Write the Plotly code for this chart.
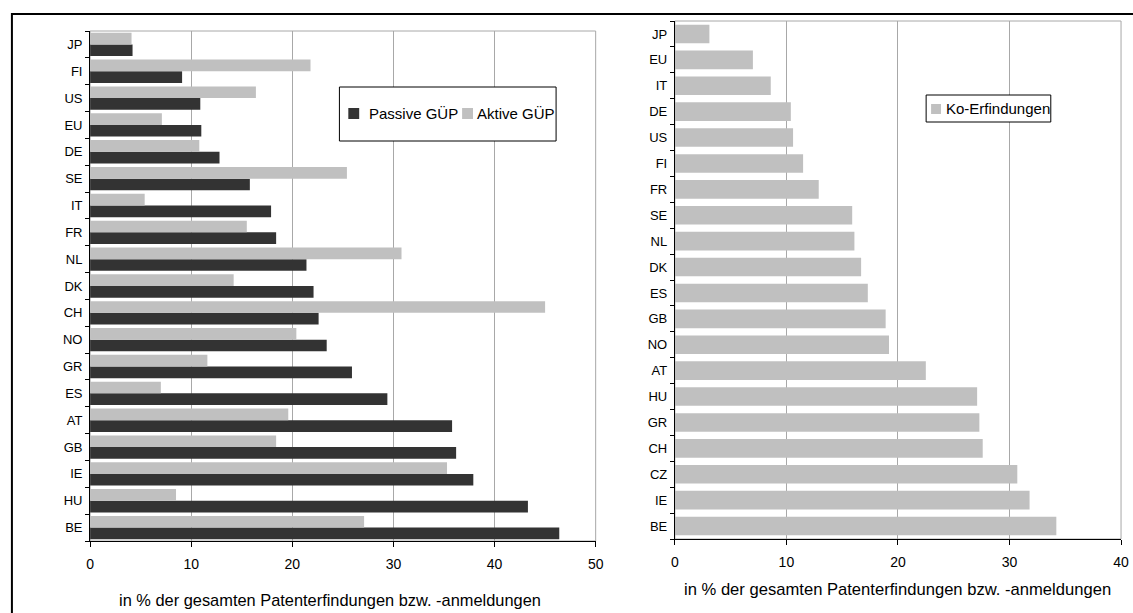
import plotly.graph_objects as go

# Left chart: share of cross-border ownership (GÜP), top-to-bottom order
countries_guep = ["JP", "FI", "US", "EU", "DE", "SE", "IT", "FR", "NL", "DK",
                  "CH", "NO", "GR", "ES", "AT", "GB", "IE", "HU", "BE"]
passive_guep = [4.2, 9.1, 10.9, 11.0, 12.8, 15.8, 17.9, 18.4, 21.4, 22.1,
                22.6, 23.4, 25.9, 29.4, 35.8, 36.2, 37.9, 43.3, 46.4]
aktive_guep = [4.1, 21.8, 16.4, 7.1, 10.8, 25.4, 5.4, 15.5, 30.8, 14.2,
               45.0, 20.4, 11.6, 7.0, 19.6, 18.4, 35.3, 8.5, 27.1]

# Right chart: share of co-inventions, top-to-bottom order
countries_ko = ["JP", "EU", "IT", "DE", "US", "FI", "FR", "SE", "NL", "DK",
                "ES", "GB", "NO", "AT", "HU", "GR", "CH", "CZ", "IE", "BE"]
ko_erfindungen = [3.1, 7.0, 8.6, 10.4, 10.6, 11.5, 12.9, 15.9, 16.1, 16.7,
                  17.3, 18.9, 19.2, 22.5, 27.1, 27.3, 27.6, 30.7, 31.8, 34.2]

name_passive = "Passive GÜP"
name_aktive = "Aktive GÜP"
name_ko = "Ko-Erfindungen"
axis_title = "in % der gesamten Patenterfindungen bzw. -anmeldungen"

W, H = 1133, 613
FONT = "Liberation Sans, Arial, sans-serif"
DARK = "#333333"
LIGHT = "#c0c0c0"
GRID = "#a8a8a8"


def fx(p):
    return p / W


def fy(p):
    return 1 - p / H


fig = go.Figure()

fig.add_trace(go.Bar(
    y=countries_guep, x=passive_guep, orientation="h", name=name_passive,
    marker=dict(color=DARK, line=dict(width=0)), xaxis="x", yaxis="y",
    showlegend=False,
))
fig.add_trace(go.Bar(
    y=countries_guep, x=aktive_guep, orientation="h", name=name_aktive,
    marker=dict(color=LIGHT, line=dict(width=0)), xaxis="x", yaxis="y",
    showlegend=False,
))
fig.add_trace(go.Bar(
    y=countries_ko, x=ko_erfindungen, orientation="h", name=name_ko,
    marker=dict(color=LIGHT, line=dict(width=0)), xaxis="x2", yaxis="y2",
    width=0.72, showlegend=False,
))

xcommon = dict(
    dtick=10, ticks="outside", ticklen=5, tickcolor="black", tickwidth=1,
    showline=True, linecolor="black", linewidth=1,
    showgrid=True, gridcolor=GRID, gridwidth=1, zeroline=False,
    tickfont=dict(family=FONT, size=14, color="black"),
    ticklabelstandoff=5,
    fixedrange=True,
)
ycommon = dict(
    type="category", tickson="boundaries", ticks="outside", ticklen=4,
    tickcolor="black", tickwidth=1, showline=True, linecolor="black",
    linewidth=1, showgrid=False, zeroline=False,
    tickfont=dict(family=FONT, size=13, color="black"),
    ticklabelstandoff=4,
    fixedrange=True,
)

fig.update_layout(
    width=W, height=H,
    margin=dict(l=0, r=0, t=0, b=0),
    paper_bgcolor="white", plot_bgcolor="white",
    barmode="group", bargap=0.13, bargroupgap=0,
    font=dict(family=FONT, color="black"),
    xaxis=dict(domain=[fx(87), fx(598)], range=[0, 50], anchor="y", **xcommon),
    yaxis=dict(domain=[fy(541), fy(31)], anchor="x",
               categoryarray=countries_guep[::-1], categoryorder="array", **ycommon),
    xaxis2=dict(domain=[fx(678), fx(1129)], range=[0, 40], anchor="y2", **xcommon),
    yaxis2=dict(domain=[fy(539), fy(21)], anchor="x2",
                categoryarray=countries_ko[::-1], categoryorder="array", **ycommon),
)

shapes = []
# plot-area borders (top/right edges in grey)
for xr, yr in (("x", "y"), ("x2", "y2")):
    shapes.append(dict(type="rect", xref=f"{xr} domain", yref=f"{yr} domain",
                       x0=0, x1=1, y0=0, y1=1, layer="below",
                       line=dict(color=GRID, width=1), fillcolor="rgba(0,0,0,0)"))

# outer frame
shapes.append(dict(type="rect", xref="paper", yref="paper",
                   x0=fx(8), x1=fx(W + 20), y0=fy(14), y1=fy(H + 20),
                   line=dict(color="black", width=2), fillcolor="rgba(0,0,0,0)"))

# legend boxes and swatches
shapes.append(dict(type="rect", xref="paper", yref="paper",
                   x0=fx(339), x1=fx(558), y0=fy(87), y1=fy(141), layer="above",
                   line=dict(color="black", width=1), fillcolor="white"))
shapes.append(dict(type="rect", xref="paper", yref="paper",
                   x0=fx(348), x1=fx(359), y0=fy(108), y1=fy(119), layer="above",
                   line=dict(width=0), fillcolor=DARK))
shapes.append(dict(type="rect", xref="paper", yref="paper",
                   x0=fx(463), x1=fx(474), y0=fy(108), y1=fy(119), layer="above",
                   line=dict(width=0), fillcolor=LIGHT))
shapes.append(dict(type="rect", xref="paper", yref="paper",
                   x0=fx(932), x1=fx(1058), y0=fy(95), y1=fy(122), layer="above",
                   line=dict(color="black", width=1), fillcolor="white"))
shapes.append(dict(type="rect", xref="paper", yref="paper",
                   x0=fx(937), x1=fx(947), y0=fy(104), y1=fy(114), layer="above",
                   line=dict(width=0), fillcolor=LIGHT))

annotations = [
    dict(text=name_passive, x=fx(367), y=fy(114), xref="paper", yref="paper",
         xanchor="left", yanchor="middle", showarrow=False,
         font=dict(family=FONT, size=15, color="black")),
    dict(text=name_aktive, x=fx(476), y=fy(114), xref="paper", yref="paper",
         xanchor="left", yanchor="middle", showarrow=False,
         font=dict(family=FONT, size=15, color="black")),
    dict(text=name_ko, x=fx(950), y=fy(108.5), xref="paper", yref="paper",
         xanchor="left", yanchor="middle", showarrow=False,
         font=dict(family=FONT, size=15, color="black")),
    dict(text=axis_title, x=fx(329), y=fy(600), xref="paper", yref="paper",
         xanchor="center", yanchor="middle", showarrow=False,
         font=dict(family=FONT, size=16.4, color="black")),
    dict(text=axis_title, x=fx(903), y=fy(589), xref="paper", yref="paper",
         xanchor="center", yanchor="middle", showarrow=False,
         font=dict(family=FONT, size=16.6, color="black")),
]

fig.update_layout(shapes=shapes, annotations=annotations)

fig.write_html("out.html")
